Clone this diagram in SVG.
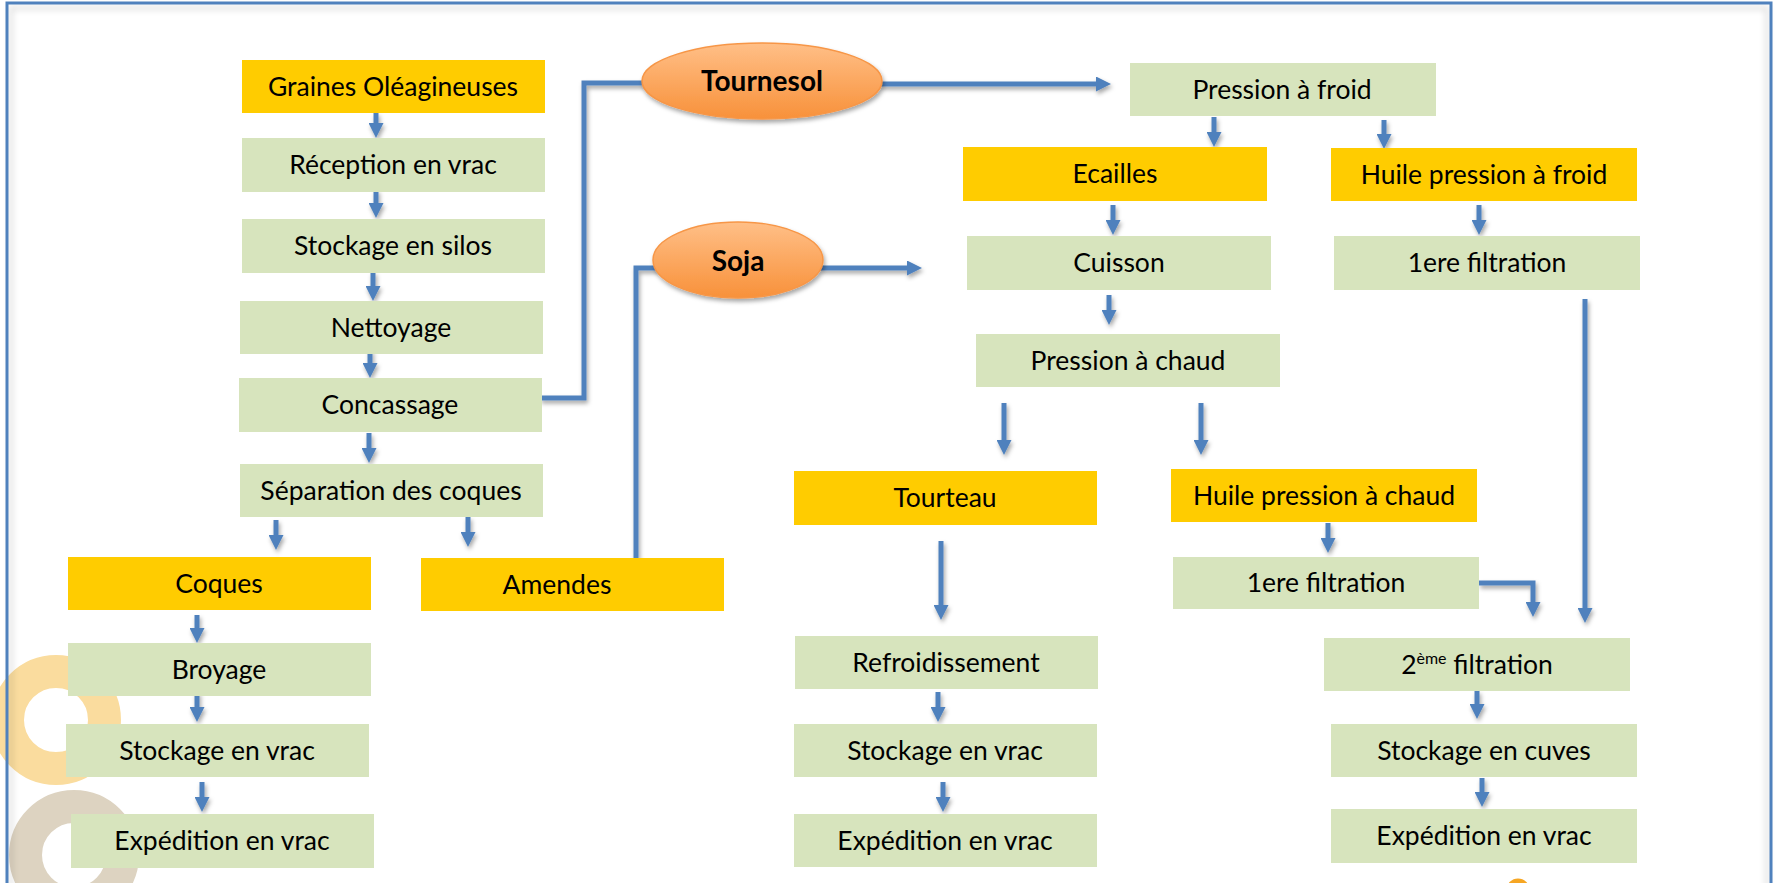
<svg xmlns="http://www.w3.org/2000/svg" width="1783" height="883" viewBox="0 0 1783 883">
<defs>
<style>
.y{fill:#FFCC00}
.g{fill:#D7E4BD}
text{font-family:Lato,"Liberation Sans",sans-serif;font-size:26.5px;fill:#000;text-anchor:middle}
.b{font-weight:bold;font-size:28px}
.c path{fill:none;stroke:#4F81BD;stroke-width:5}
.c path.a{marker-end:url(#ah)}
</style>
<marker id="ah" viewBox="0 0 15 15" refX="2" refY="7.5" markerWidth="15" markerHeight="15" markerUnits="userSpaceOnUse" orient="auto">
<path d="M0,0 L15,7.5 L0,15 z" fill="#4F81BD"/>
</marker>
<linearGradient id="og" x1="0" y1="0" x2="0" y2="1">
<stop offset="0" stop-color="#FFBF87"/>
<stop offset="1" stop-color="#F8913A"/>
</linearGradient>
<filter id="sh" x="-20%" y="-20%" width="140%" height="160%">
<feDropShadow dx="1.5" dy="3" stdDeviation="2" flood-color="#000" flood-opacity="0.35"/>
</filter>
<filter id="bl"><feGaussianBlur stdDeviation="3"/></filter>
</defs>
<rect width="1783" height="883" fill="#fff"/>
<g id="decor">
<circle cx="56" cy="720" r="48.5" fill="none" stroke="#FADC9E" stroke-width="33"/>
<circle cx="74" cy="855" r="48.5" fill="none" stroke="#DDD3C1" stroke-width="33"/>
<circle cx="1518" cy="890" r="8" fill="none" stroke="#F6A623" stroke-width="7"/>
</g>
<g id="frame">
<rect x="11" y="8" width="1756" height="900" fill="none" stroke="#000" stroke-opacity="0.12" stroke-width="4" filter="url(#bl)"/>
<rect x="7" y="3" width="1764" height="900" fill="none" stroke="#4F81BD" stroke-width="3"/>
</g>
<g id="connectors" class="c" filter="url(#sh)">
<path class="a" d="M376,113 V125"/>
<path class="a" d="M376,190 V205"/>
<path class="a" d="M373,272 V288"/>
<path class="a" d="M370,350 V365"/>
<path class="a" d="M369,433 V450"/>
<path class="a" d="M276,520 V537"/>
<path class="a" d="M468,517 V534"/>
<path class="a" d="M197,615 V630"/>
<path class="a" d="M197,692 V709"/>
<path class="a" d="M202,782 V799"/>
<path d="M540,398 H584 V83 H650"/>
<path class="a" d="M880,84 H1098"/>
<path d="M636,558 V268 H660"/>
<path class="a" d="M820,268 H909"/>
<path class="a" d="M1214,117 V134"/>
<path class="a" d="M1384,120 V136"/>
<path class="a" d="M1113,205 V222"/>
<path class="a" d="M1109,295 V312"/>
<path class="a" d="M1479,205 V222"/>
<path class="a" d="M1585,299 V610"/>
<path class="a" d="M1004,403 V442"/>
<path class="a" d="M1201,403 V442"/>
<path class="a" d="M941,541 V607"/>
<path class="a" d="M938,692 V709"/>
<path class="a" d="M943,782 V799"/>
<path class="a" d="M1328,523 V540"/>
<path class="a" d="M1479,583 H1533 V604"/>
<path class="a" d="M1477,691 V706"/>
<path class="a" d="M1482,778 V794"/>
</g>
<g id="n-tournesol"><ellipse cx="762" cy="81" rx="120" ry="38" fill="url(#og)" stroke="#F79646" stroke-width="1.5" filter="url(#sh)"/><text class="b" x="762" y="91">Tournesol</text></g>
<g id="n-soja"><ellipse cx="738" cy="260" rx="85" ry="38" fill="url(#og)" stroke="#F79646" stroke-width="1.5" filter="url(#sh)"/><text class="b" x="738" y="271">Soja</text></g>
<g id="n-graines"><rect class="y" x="242" y="60" width="303" height="53"/><text x="393" y="96">Graines Oléagineuses</text></g>
<g id="n-reception"><rect class="g" x="242" y="138" width="303" height="54"/><text x="393" y="174">Réception en vrac</text></g>
<g id="n-silos"><rect class="g" x="242" y="219" width="303" height="54"/><text x="393" y="255">Stockage en silos</text></g>
<g id="n-nettoyage"><rect class="g" x="240" y="301" width="303" height="53"/><text x="391" y="337">Nettoyage</text></g>
<g id="n-concassage"><rect class="g" x="239" y="378" width="303" height="54"/><text x="390" y="414">Concassage</text></g>
<g id="n-separation"><rect class="g" x="240" y="464" width="303" height="53"/><text x="391" y="500">Séparation des coques</text></g>
<g id="n-coques"><rect class="y" x="68" y="557" width="303" height="53"/><text x="219" y="593">Coques</text></g>
<g id="n-amendes"><rect class="y" x="421" y="558" width="303" height="53"/><text x="557" y="594">Amendes</text></g>
<g id="n-broyage"><rect class="g" x="68" y="643" width="303" height="53"/><text x="219" y="679">Broyage</text></g>
<g id="n-stock1"><rect class="g" x="66" y="724" width="303" height="53"/><text x="217" y="760">Stockage en vrac</text></g>
<g id="n-exp1"><rect class="g" x="71" y="814" width="303" height="54"/><text x="222" y="850">Expédition en vrac</text></g>
<g id="n-froid"><rect class="g" x="1130" y="63" width="306" height="53"/><text x="1282" y="99">Pression à froid</text></g>
<g id="n-ecailles"><rect class="y" x="963" y="147" width="304" height="54"/><text x="1115" y="183">Ecailles</text></g>
<g id="n-huilepf"><rect class="y" x="1331" y="148" width="306" height="53"/><text x="1484" y="184">Huile pression à froid</text></g>
<g id="n-cuisson"><rect class="g" x="967" y="236" width="304" height="54"/><text x="1119" y="272">Cuisson</text></g>
<g id="n-filt1a"><rect class="g" x="1334" y="236" width="306" height="54"/><text x="1487" y="272">1ere filtration</text></g>
<g id="n-chaud"><rect class="g" x="976" y="334" width="304" height="53"/><text x="1128" y="370">Pression à chaud</text></g>
<g id="n-tourteau"><rect class="y" x="794" y="471" width="303" height="54"/><text x="945" y="507">Tourteau</text></g>
<g id="n-huilepc"><rect class="y" x="1171" y="469" width="306" height="53"/><text x="1324" y="505">Huile pression à chaud</text></g>
<g id="n-refroid"><rect class="g" x="795" y="636" width="303" height="53"/><text x="946" y="672">Refroidissement</text></g>
<g id="n-filt1b"><rect class="g" x="1173" y="557" width="306" height="52"/><text x="1326" y="592">1ere filtration</text></g>
<g id="n-filt2"><rect class="g" x="1324" y="638" width="306" height="53"/><text x="1477" y="674">2<tspan font-size="16" dy="-10">ème</tspan><tspan dy="10"> filtration</tspan></text></g>
<g id="n-stock2"><rect class="g" x="794" y="724" width="303" height="53"/><text x="945" y="760">Stockage en vrac</text></g>
<g id="n-cuves"><rect class="g" x="1331" y="724" width="306" height="53"/><text x="1484" y="760">Stockage en cuves</text></g>
<g id="n-exp2"><rect class="g" x="794" y="814" width="303" height="53"/><text x="945" y="850">Expédition en vrac</text></g>
<g id="n-exp3"><rect class="g" x="1331" y="809" width="306" height="54"/><text x="1484" y="845">Expédition en vrac</text></g>
</svg>
